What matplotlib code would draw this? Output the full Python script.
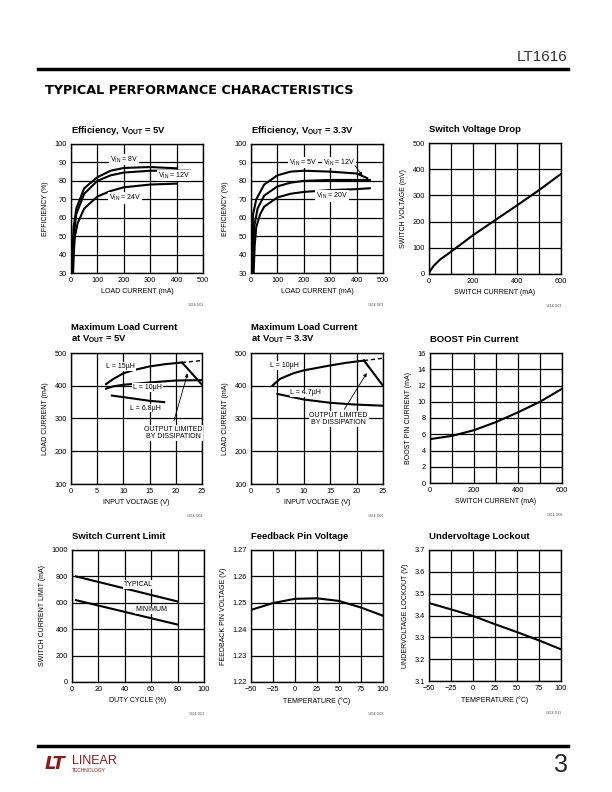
import numpy as np
import matplotlib
matplotlib.use("Agg")
from matplotlib import pyplot as plt

plt.rcParams['font.family'] = ['Liberation Sans Narrow', 'Liberation Sans', 'DejaVu Sans']
plt.rcParams['mathtext.default'] = 'regular'

########
# Data #
########

# Efficiency, VOUT = 5V
eff5_8v_x = [5, 7, 10, 20, 50, 100, 150, 200, 300, 400]
eff5_8v_y = [30, 45, 55, 65, 76, 82, 85.5, 87, 87.5, 86.8]
eff5_12v_x = [6, 8, 12, 20, 50, 100, 150, 200, 300, 400, 450]
eff5_12v_y = [30, 42, 52, 62, 73, 80, 83, 84.5, 85.5, 85.5, 85.5]
eff5_24v_x = [8, 11, 15, 25, 50, 100, 150, 200, 300, 400]
eff5_24v_y = [30, 42, 50, 57, 65, 71.5, 74.5, 76.5, 78, 78.5]

# Efficiency, VOUT = 3.3V
eff3_5v_x = [5, 6, 8, 20, 50, 100, 150, 200, 300, 400, 440]
eff3_5v_y = [30, 50, 62, 70, 78, 83, 85, 85.5, 85, 84, 81.5]
eff3_12v_x = [6, 9, 12, 25, 50, 100, 150, 200, 300, 400, 450]
eff3_12v_y = [30, 45, 55, 65, 72, 77, 79, 80, 80.5, 80.5, 80.5]
eff3_20v_x = [10, 14, 20, 35, 50, 100, 150, 200, 300, 400, 450]
eff3_20v_y = [30, 45, 55, 62, 66, 71, 73, 74, 75, 75.5, 76]

# Switch voltage drop
vdrop_x = [0, 20, 50, 100, 200, 300, 400, 500, 600]
vdrop_y = [5, 30, 55, 85, 148, 205, 262, 320, 382]

# Maximum load current, VOUT = 5V
ml5_15_x = [6.7, 8, 10, 12, 15, 18, 21.2]
ml5_15_y = [405, 420, 438, 448, 459, 466, 471]
ml5_15d_x = [21.2, 25]
ml5_15d_y = [471, 477]
ml5_lim_x = [21.2, 25]
ml5_lim_y = [471, 403]
ml5_10_x = [6.7, 8, 10, 15, 20, 25]
ml5_10_y = [391, 398, 403, 410, 416, 417]
ml5_68_x = [7.8, 11, 15, 17.8]
ml5_68_y = [370, 363, 354, 350]

# Maximum load current, VOUT = 3.3V
ml3_10_x = [4.1, 5.5, 8, 10, 15, 18, 21.4]
ml3_10_y = [401, 421, 438, 447, 462, 470, 477]
ml3_10d_x = [21.4, 25]
ml3_10d_y = [477, 484]
ml3_lim_x = [21.4, 25]
ml3_lim_y = [477, 400]
ml3_47_x = [5, 10, 15, 19.3, 25]
ml3_47_y = [375, 358, 348, 343, 339]

# BOOST pin current
boost_x = [0, 100, 200, 300, 400, 500, 600]
boost_y = [5.4, 5.8, 6.5, 7.5, 8.7, 10.0, 11.6]

# Switch current limit
dc_x = [3, 80]
typ_y = [800, 610]
min_y = [620, 435]

# Feedback pin voltage
fb_t = [-50, -25, 0, 25, 50, 75, 100]
fb_v = [1.2473, 1.2499, 1.2515, 1.2517, 1.2507, 1.2482, 1.2451]

# Undervoltage lockout
uv_t = [-50, -25, 0, 25, 50, 75, 100]
uv_v = [3.457, 3.428, 3.398, 3.360, 3.324, 3.286, 3.245]

W, H = 612, 792
fig = plt.figure(figsize=(W / 100, H / 100), dpi=100)

# helper: pixel box -> axes
def make_ax(x0, y0, x1, y1):
    ax = fig.add_axes([x0 / W, 1 - y1 / H, (x1 - x0) / W, (y1 - y0) / H])
    ax.grid(True, color='black', lw=0.9)
    ax.set_axisbelow(True)
    for s in ax.spines.values():
        s.set_linewidth(1.0)
    ax.tick_params(length=0, labelsize=5.3, pad=3)
    return ax

def finish(ax, title, xlabel, ylabel, code):
    ax.set_title(title, loc='left', fontsize=6.8, fontweight='bold', pad=8)
    ax.set_xlabel(xlabel, fontsize=5.0, labelpad=3)
    ax.set_ylabel(ylabel, fontsize=5.0, labelpad=4)
    ax.text(1.0, -0.23, code, transform=ax.transAxes, fontsize=2.5,
            ha='right', va='top', color='0.3')

box = dict(facecolor='white', edgecolor='none', pad=0.5)
LW = 1.5
FS = 5.0

# --- Row 1 ---
ax = make_ax(71, 144, 203, 273)
for x, y in [(eff5_8v_x, eff5_8v_y), (eff5_12v_x, eff5_12v_y), (eff5_24v_x, eff5_24v_y)]:
    ax.plot(x, y, color='black', lw=LW)
ax.set_xlim(0, 500); ax.set_ylim(30, 100)
ax.set_xticks(range(0, 501, 100)); ax.set_yticks(range(30, 101, 10))
ax.text(202, 91.5, '$V_{IN}$ = 8V', fontsize=FS, ha='center', va='center', bbox=box)
ax.text(390, 82.9, '$V_{IN}$ = 12V', fontsize=FS, ha='center', va='center', bbox=box)
ax.text(204, 70.6, '$V_{IN}$ = 24V', fontsize=FS, ha='center', va='center', bbox=box)
finish(ax, 'Efficiency, $V_{OUT}$ = 5V', 'LOAD CURRENT (mA)', 'EFFICIENCY (%)', '1616 G01')

ax = make_ax(251, 144, 383, 273)
for x, y in [(eff3_5v_x, eff3_5v_y), (eff3_12v_x, eff3_12v_y), (eff3_20v_x, eff3_20v_y)]:
    ax.plot(x, y, color='black', lw=LW)
ax.set_xlim(0, 500); ax.set_ylim(30, 100)
ax.set_xticks(range(0, 501, 100)); ax.set_yticks(range(30, 101, 10))
ax.text(197, 89.9, '$V_{IN}$ = 5V', fontsize=FS, ha='center', va='center', bbox=box)
ax.text(333, 89.9, '$V_{IN}$ = 12V', fontsize=FS, ha='center', va='center', bbox=box)
ax.text(308, 71.8, '$V_{IN}$ = 20V', fontsize=FS, ha='center', va='center', bbox=box)
ax.annotate('', xy=(428, 81.5), xytext=(388, 89.5),
            arrowprops=dict(arrowstyle='-|>', color='black', lw=0.6, mutation_scale=5))
finish(ax, 'Efficiency, $V_{OUT}$ = 3.3V', 'LOAD CURRENT (mA)', 'EFFICIENCY (%)', '1616 G02')

ax = make_ax(429, 143, 561, 274)
ax.plot(vdrop_x, vdrop_y, color='black', lw=LW)
ax.set_xlim(0, 600); ax.set_ylim(0, 500)
ax.set_xticks(range(0, 601, 100)); ax.set_yticks(range(0, 501, 100))
ax.set_xticklabels(['0', '', '200', '', '400', '', '600'])
finish(ax, 'Switch Voltage Drop', 'SWITCH CURRENT (mA)', 'SWITCH VOLTAGE (mV)', '1616 G03')

# --- Row 2 ---
ax = make_ax(71, 353, 202, 484)
ax.plot(ml5_15_x, ml5_15_y, color='black', lw=LW)
ax.plot(ml5_15d_x, ml5_15d_y, color='black', lw=1.0, ls=(0, (3, 2)))
ax.plot(ml5_lim_x, ml5_lim_y, color='black', lw=LW)
ax.plot(ml5_10_x, ml5_10_y, color='black', lw=LW)
ax.plot(ml5_68_x, ml5_68_y, color='black', lw=LW)
ax.set_xlim(0, 25); ax.set_ylim(100, 500)
ax.set_xticks(range(0, 26, 5)); ax.set_yticks(range(100, 501, 100))
ax.text(9.5, 459, 'L = 15\u00b5H', fontsize=FS, ha='center', va='center', bbox=box)
ax.text(14.6, 395, 'L = 10\u00b5H', fontsize=FS, ha='center', va='center', bbox=box)
ax.text(14.3, 332, 'L = 6.8\u00b5H', fontsize=FS, ha='center', va='center', bbox=box)
ax.text(19.5, 255, 'OUTPUT LIMITED\nBY DISSIPATION', fontsize=FS, ha='center',
        va='center', linespacing=1.1, bbox=box)
ax.annotate('', xy=(22.4, 446), xytext=(19.5, 285),
            arrowprops=dict(arrowstyle='-|>', color='black', lw=0.6, mutation_scale=5))
finish(ax, 'Maximum Load Current\nat $V_{OUT}$ = 5V', 'INPUT VOLTAGE (V)', 'LOAD CURRENT (mA)', '1616 G04')

ax = make_ax(251, 353, 383, 484)
ax.plot(ml3_10_x, ml3_10_y, color='black', lw=LW)
ax.plot(ml3_10d_x, ml3_10d_y, color='black', lw=1.0, ls=(0, (3, 2)))
ax.plot(ml3_lim_x, ml3_lim_y, color='black', lw=LW)
ax.plot(ml3_47_x, ml3_47_y, color='black', lw=LW)
ax.set_xlim(0, 25); ax.set_ylim(100, 500)
ax.set_xticks(range(0, 26, 5)); ax.set_yticks(range(100, 501, 100))
ax.text(6.3, 462, 'L = 10\u00b5H', fontsize=FS, ha='center', va='center', bbox=box)
ax.text(10.4, 378, 'L = 4.7\u00b5H', fontsize=FS, ha='center', va='center', bbox=box)
ax.text(16.6, 299, 'OUTPUT LIMITED\nBY DISSIPATION', fontsize=FS, ha='center',
        va='center', linespacing=1.1, bbox=box)
ax.annotate('', xy=(22.2, 446), xytext=(17.4, 321),
            arrowprops=dict(arrowstyle='-|>', color='black', lw=0.6, mutation_scale=5))
finish(ax, 'Maximum Load Current\nat $V_{OUT}$ = 3.3V', 'INPUT VOLTAGE (V)', 'LOAD CURRENT (mA)', '1616 G05')

ax = make_ax(430, 353, 562, 483)
ax.plot(boost_x, boost_y, color='black', lw=LW)
ax.set_xlim(0, 600); ax.set_ylim(0, 16)
ax.set_xticks(range(0, 601, 100)); ax.set_yticks(range(0, 17, 2))
ax.set_xticklabels(['0', '', '200', '', '400', '', '600'])
finish(ax, 'BOOST Pin Current', 'SWITCH CURRENT (mA)', 'BOOST PIN CURRENT (mA)', '1616 G06')

# --- Row 3 ---
ax = make_ax(72, 550, 204, 682)
ax.plot(dc_x, typ_y, color='black', lw=LW)
ax.plot(dc_x, min_y, color='black', lw=LW)
ax.set_xlim(0, 100); ax.set_ylim(0, 1000)
ax.set_xticks(range(0, 101, 20)); ax.set_yticks(range(0, 1001, 200))
ax.text(50, 740, 'TYPICAL', fontsize=FS, ha='center', va='center', bbox=box)
ax.text(60, 547, 'MINIMUM', fontsize=FS, ha='center', va='center', bbox=box)
finish(ax, 'Switch Current Limit', 'DUTY CYCLE (%)', 'SWITCH CURRENT LIMIT (mA)', '1616 G07')

ax = make_ax(251, 550, 383, 682)
ax.plot(fb_t, fb_v, color='black', lw=LW)
ax.set_xlim(-50, 100); ax.set_ylim(1.22, 1.27)
ax.set_xticks(range(-50, 101, 25)); ax.set_yticks(np.arange(1.22, 1.2701, 0.01))
ax.set_xticklabels(['\u221250', '\u221225', '0', '25', '50', '75', '100'])
ax.set_yticklabels(['1.22', '1.23', '1.24', '1.25', '1.26', '1.27'])
finish(ax, 'Feedback Pin Voltage', 'TEMPERATURE (\u00b0C)', 'FEEDBACK PIN VOLTAGE (V)', '1616 G08')

ax = make_ax(429, 550, 561, 681)
ax.plot(uv_t, uv_v, color='black', lw=LW)
ax.set_xlim(-50, 100); ax.set_ylim(3.1, 3.7)
ax.set_xticks(range(-50, 101, 25)); ax.set_yticks(np.arange(3.1, 3.701, 0.1))
ax.set_xticklabels(['\u221250', '\u221225', '0', '25', '50', '75', '100'])
ax.set_yticklabels(['3.1', '3.2', '3.3', '3.4', '3.5', '3.6', '3.7'])
finish(ax, 'Undervoltage Lockout', 'TEMPERATURE (\u00b0C)', 'UNDERVOLTAGE LOCKOUT (V)', '1616 G11')

# --- page decorations ---
fig.text(568 / W, 1 - 57 / H, 'LT1616', fontsize=11, ha='right', va='center',
         family=['Liberation Sans', 'DejaVu Sans'], color='0.2')
fig.add_artist(plt.Line2D([38 / W, 568 / W], [1 - 69 / H, 1 - 69 / H], color='black', lw=2.5))
fig.text(45 / W, 1 - 90 / H, 'TYPICAL PERFORMANCE CHARACTERISTICS', fontsize=9.2,
         fontweight='heavy', ha='left', va='center', family=['DejaVu Sans'])
fig.add_artist(plt.Line2D([38 / W, 568 / W], [1 - 746 / H, 1 - 746 / H], color='black', lw=2.5))
fig.text(568 / W, 1 - 765 / H, '3', fontsize=18, ha='right', va='center',
         family=['Liberation Sans', 'DejaVu Sans'], color='0.15')
red = '#8a1b1e'
fig.text(45 / W, 1 - 764 / H, 'LT', fontsize=13, fontweight='bold', style='italic',
         color=red, ha='left', va='center', family=['DejaVu Sans'])
fig.text(72 / W, 1 - 761 / H, 'LINEAR', fontsize=9, color=red, ha='left', va='center')
fig.text(72 / W, 1 - 771 / H, 'TECHNOLOGY', fontsize=3.5, color=red, ha='left', va='center')

fig.savefig('out.png', dpi=100)
